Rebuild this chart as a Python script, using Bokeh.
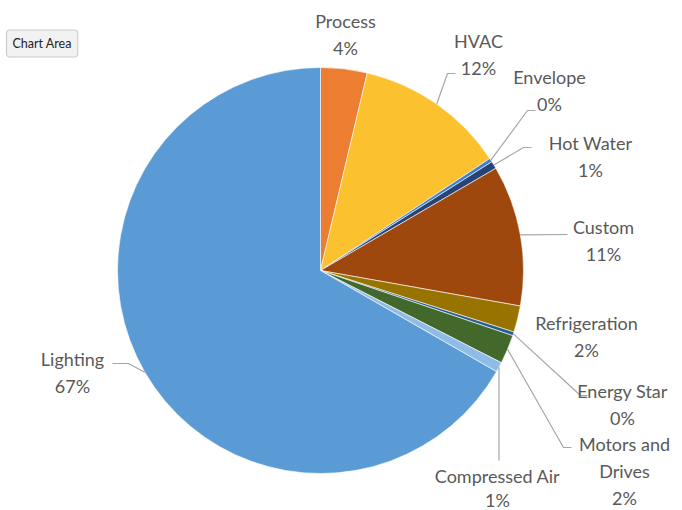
import math
from bokeh.plotting import figure
from bokeh.models import Range1d, ColumnDataSource, Label
from bokeh.core.properties import value
from bokeh.embed import file_html
from bokeh.resources import INLINE

# ---- data (clockwise from 12 o'clock) ----
categories = ["Process", "HVAC", "Envelope", "Hot Water", "Custom", "Refrigeration",
              "Energy Star", "Motors and Drives", "Compressed Air", "Lighting"]
shares = [3.7, 12.0, 0.3, 0.6, 11.2, 2.1, 0.3, 2.3, 0.8, 66.7]
pct_labels = ["4%", "12%", "0%", "1%", "11%", "2%", "0%", "2%", "1%", "67%"]
colors = ["#ED7D31", "#FBC12E", "#3F7FCF", "#264478", "#9E480E", "#997300",
          "#255E91", "#43682B", "#8FBCE6", "#5B9BD5"]

# ---- layout (pixel coordinates, y down) ----
W, H = 682, 510
CX, CY, R = 320, 270, 203
label_pos = {
    "Process": (345, 20), "HVAC": (478, 40), "Envelope": (549, 76), "Hot Water": (590, 142),
    "Custom": (603, 226), "Refrigeration": (586, 322), "Energy Star": (622, 390),
    "Motors and Drives": (624, 443), "Compressed Air": (497, 475), "Lighting": (72, 358),
}
line_step = {"Compressed Air": 24}
label_lines = {"Motors and Drives": ["Motors and", "Drives"]}
leader_bends = {
    "HVAC": [(447, 73), (455, 73)],
    "Envelope": [(527, 110), (535, 110)],
    "Hot Water": [(523, 147), (531, 147)],
    "Custom": [(567, 234)],
    "Energy Star": [(580, 395), (587, 395)],
    "Motors and Drives": [(563, 447), (571, 447)],
    "Compressed Air": [(498.5, 460)],
    "Lighting": [(128, 363), (112, 363)],
}

def fy(py):
    return H - py

total = sum(shares)
starts, ends, mids = [], [], []
cum = 0.0
for s in shares:
    a0 = math.pi / 2 - 2 * math.pi * cum / total
    cum += s
    a1 = math.pi / 2 - 2 * math.pi * cum / total
    starts.append(a1)
    ends.append(a0)
    mids.append((a0 + a1) / 2)

src = ColumnDataSource(dict(start=starts, end=ends, color=colors, cat=categories))

p = figure(width=W, height=H, x_range=Range1d(0, W), y_range=Range1d(0, H),
           output_backend="svg", toolbar_location=None, min_border=0)
p.axis.visible = False
p.grid.visible = False
p.outline_line_color = None
p.background_fill_color = "white"
p.border_fill_color = "white"

p.wedge(x=CX, y=fy(CY), radius=R, start_angle="start", end_angle="end",
        direction="anticlock", fill_color="color", line_color="white", line_width=0.6,
        source=src)

# leader lines
for i, c in enumerate(categories):
    if c not in leader_bends:
        continue
    m = mids[i]
    ex, ey = CX + R * math.cos(m), fy(CY) + R * math.sin(m)
    xs = [ex] + [b[0] for b in leader_bends[c]]
    ys = [ey] + [fy(b[1]) for b in leader_bends[c]]
    p.line(xs, ys, line_color="#A6A6A6", line_width=1.2)

# labels
tx, ty, tt = [], [], []
for i, c in enumerate(categories):
    x0, y0 = label_pos[c]
    step = line_step.get(c, 27)
    lines = label_lines.get(c, [c]) + [pct_labels[i]]
    for k, t in enumerate(lines):
        tx.append(x0)
        ty.append(fy(y0 + step * k))
        tt.append(t)
p.text(x=tx, y=ty, text=tt, text_align="center", text_baseline="middle",
       text_font=value("Lato"), text_font_size="18px", text_color="#595959")

# "Chart Area" tooltip
tip = Label(x=6, y=fy(43), text="Chart Area", text_font="Lato", text_font_size="12.5px",
            text_color="#222222", text_baseline="middle", x_units="data", y_units="data",
            background_fill_color="#F2F2F2", border_line_color="#C8C8C8", padding=6,
            border_radius=3)
p.add_layout(tip)

open("out.html", "w").write(file_html(p, INLINE))
